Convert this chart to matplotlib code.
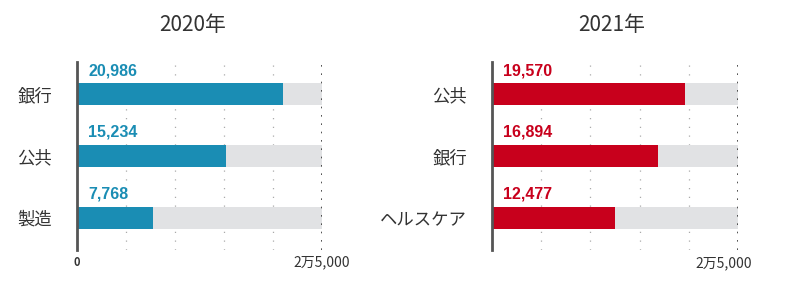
import matplotlib
matplotlib.use("Agg")
import matplotlib.pyplot as plt
from matplotlib.transforms import ScaledTranslation

plt.rcParams['font.family'] = ['Noto Sans CJK JP', 'DejaVu Sans']

titles = ["2020年", "2021年"]
cats_2020 = ["銀行", "公共", "製造"]
vals_2020 = [20986, 15234, 7768]
cats_2021 = ["公共", "銀行", "ヘルスケア"]
vals_2021 = [19570, 16894, 12477]
max_val = 25000
grid_ticks = [5000, 10000, 15000, 20000]
max_label = "2万5,000"

colors = ["#1a8db4", "#c8001c"]
bg_color = "#e1e2e4"

fig = plt.figure(figsize=(7.85, 2.91), dpi=100)
axes_pos = [[77/785, 1-250/291, 245/785, 188/291],
            [492/785, 1-250/291, 246/785, 188/291]]

panels = [(cats_2020, vals_2020), (cats_2021, vals_2021)]
for i, (cats, vals) in enumerate(panels):
    ax = fig.add_axes(axes_pos[i])
    ypos = list(range(len(cats)))
    ax.barh(ypos, [max_val]*len(cats), height=0.36, color=bg_color, zorder=1)
    ax.barh(ypos, vals, height=0.36, color=colors[i], zorder=2)
    for g in grid_ticks:
        ax.axvline(g, color="#aaaaaa", lw=0.9, linestyle=(0, (1, 6)), zorder=0)
    ax.axvline(max_val, color="#333333", lw=1.2, linestyle=(0, (1, 4)), zorder=3)
    for y, v in zip(ypos, vals):
        ax.annotate(f"{v:,}", xy=(0, y), xytext=(8, 17), textcoords="offset points",
                    ha="left", va="center", color=colors[i], fontsize=11.5,
                    fontweight="bold", family=["Liberation Sans", "DejaVu Sans"])
    ax.set_xlim(0, max_val)
    ax.set_ylim(2.52, -0.52)
    ax.set_yticks(ypos)
    ax.set_yticklabels(cats, fontsize=12.5, color="#333333")
    ax.tick_params(axis="y", length=0, pad=18)
    ax.tick_params(axis="x", length=0, pad=4)
    if i == 0:
        ax.set_xticks([0, max_val])
        ax.set_xticklabels(["0", max_label])
        lbls = ax.get_xticklabels()
        lbls[0].set_fontsize(8)
        lbls[0].set_fontweight("bold")
        lbls[1].set_fontsize(10)
    else:
        ax.set_xticks([max_val])
        ax.set_xticklabels([max_label], fontsize=10)
        for lb in ax.get_xticklabels():
            lb.set_transform(lb.get_transform() + ScaledTranslation(-0.14, -0.01, fig.dpi_scale_trans))
    for lb in ax.get_xticklabels():
        lb.set_color("#333333")
    for s in ["top", "right", "bottom"]:
        ax.spines[s].set_visible(False)
    ax.spines["left"].set_color("#555555")
    ax.spines["left"].set_linewidth(2)
    ax.spines["left"].set_zorder(4)
    ax.set_facecolor("none")

fig.text(193/785, 1-25/291, titles[0], ha="center", va="center", fontsize=15, color="#333333")
fig.text(612/785, 1-25/291, titles[1], ha="center", va="center", fontsize=15, color="#333333")

fig.savefig("out.png", dpi=100)
